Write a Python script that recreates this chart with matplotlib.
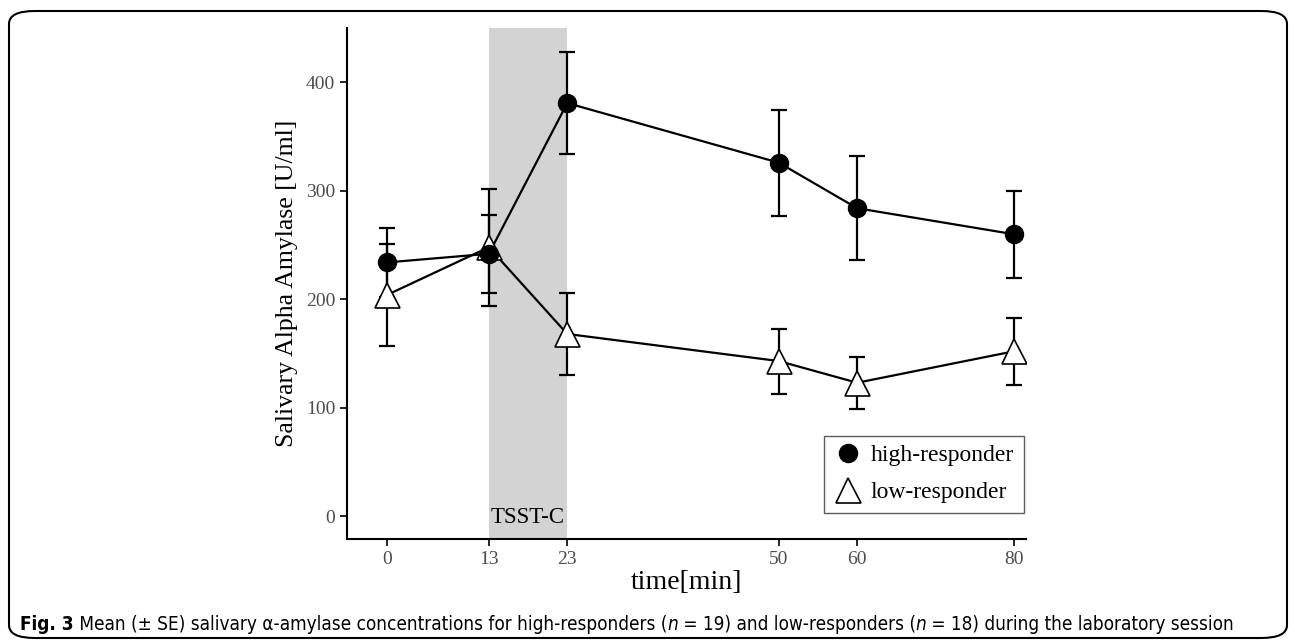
import matplotlib.pyplot as plt
from matplotlib.patches import FancyBboxPatch

plt.rcParams['font.family'] = ['Liberation Serif', 'DejaVu Serif']

time = [0, 13, 23, 50, 60, 80]
high_mean = [234, 242, 381, 326, 284, 260]
high_se = [32, 36, 47, 49, 48, 40]
low_mean = [204, 248, 168, 143, 123, 152]
low_se = [47, 54, 38, 30, 24, 31]

caption_parts = [
    ('Fig. 3', 'bold', 'normal'),
    (' Mean (\u00b1 SE) salivary \u03b1-amylase concentrations for high-responders (', 'normal', 'normal'),
    ('n', 'normal', 'italic'),
    (' = 19) and low-responders (', 'normal', 'normal'),
    ('n', 'normal', 'italic'),
    (' = 18) during the laboratory session', 'normal', 'normal'),
]

fig = plt.figure(figsize=(12.95, 6.43), dpi=100)
ax = fig.add_axes([0.268, 0.162, 0.524, 0.794])

# stress test window
ax.axvspan(13, 23, color='#d3d3d3', lw=0, zorder=0)
ax.text(18, -1, 'TSST-C', ha='center', va='center', fontsize=16.5)

ax.errorbar(time, high_mean, yerr=high_se, color='black', lw=1.6,
            capsize=6, capthick=1.6, elinewidth=1.6, zorder=2)
ax.errorbar(time, low_mean, yerr=low_se, color='black', lw=1.6,
            capsize=6, capthick=1.6, elinewidth=1.6, zorder=2)
ax.plot(time, low_mean, '^', ms=18, mfc='white', mec='black', mew=1.2,
        zorder=3, label='low-responder')
ax.plot(time, high_mean, 'o', ms=13, color='black', zorder=4,
        label='high-responder')

ax.set_xlim(-5.1, 81.5)
ax.set_ylim(-21, 450)
ax.set_xticks(time)
ax.set_yticks([0, 100, 200, 300, 400])
ax.tick_params(labelsize=14, labelcolor='#4d4d4d', length=5, width=1.2)
for s in ['top', 'right']:
    ax.spines[s].set_visible(False)
for s in ['left', 'bottom']:
    ax.spines[s].set_linewidth(1.5)

ax.set_xlabel('time[min]', fontsize=20, labelpad=2)
ax.set_ylabel('Salivary Alpha Amylase [U/ml]', fontsize=18.5, labelpad=6)

handles, labels = ax.get_legend_handles_labels()
leg = ax.legend(handles[::-1], labels[::-1], loc='lower right',
                bbox_to_anchor=(0.997, 0.051), fontsize=17,
                frameon=True, fancybox=False, edgecolor='#333333',
                handletextpad=0.3, borderpad=0.4, labelspacing=0.65,
                handlelength=1.3, borderaxespad=0)
leg.get_frame().set_linewidth(1.0)

# figure border and caption
box = FancyBboxPatch((9 / 1295, 5 / 643), 1278 / 1295, 627 / 643,
                     boxstyle='round,pad=0,rounding_size=0.02',
                     transform=fig.transFigure, fill=False,
                     ec='black', lw=1.5)
fig.patches.append(box)

prev = None
for txt, weight, style in caption_parts:
    kw = dict(fontsize=13.6, fontweight=weight, fontstyle=style,
              family='DejaVu Sans', fontstretch='condensed', va='center')
    if prev is None:
        prev = fig.text(20 / 1295, 1 - 624 / 643, txt, **kw)
    else:
        prev = ax.annotate(txt, xy=(1, 0.5), xycoords=prev, ha='left',
                           annotation_clip=False, **kw)

fig.savefig('out.png', dpi=100)
